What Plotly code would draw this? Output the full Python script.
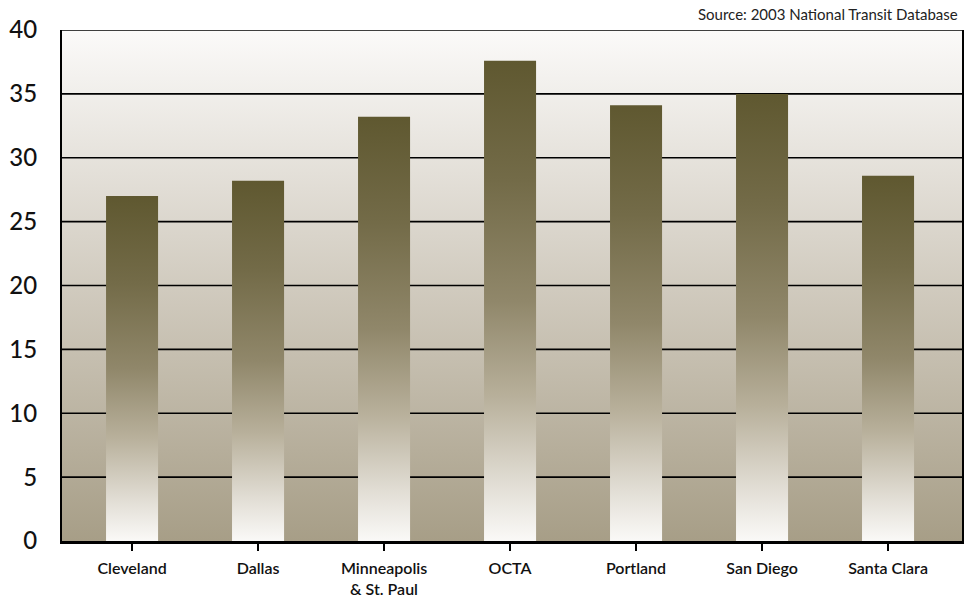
import plotly.graph_objects as go

# Average trip length by light-rail system
categories = ["Cleveland", "Dallas", "Minneapolis<br>& St. Paul", "OCTA",
              "Portland", "San Diego", "Santa Clara"]
values = [27.0, 28.2, 33.2, 37.6, 34.1, 35.0, 28.6]
y_ticks = [0, 5, 10, 15, 20, 25, 30, 35, 40]
source_note = "Source: 2003 National Transit Database"

BAR_WIDTH = 0.413
X_RANGE = [-0.556, 6.587]
Y_RANGE = [0, 40]

bar_scale = [
    [0.0, "#faf9f7"],
    [0.12, "#e1ddd4"],
    [0.3, "#b8b09b"],
    [0.5, "#90876a"],
    [0.75, "#736b48"],
    [1.0, "#5f5830"],
]
bg_scale = [[0.0, "#a79e87"], [0.5, "#d1cbbf"], [1.0, "#fbfaf9"]]

fig = go.Figure()

# plot-area background with vertical gradient
fig.add_trace(go.Scatter(
    x=[X_RANGE[0], X_RANGE[1], X_RANGE[1], X_RANGE[0], X_RANGE[0]],
    y=[Y_RANGE[0], Y_RANGE[0], Y_RANGE[1], Y_RANGE[1], Y_RANGE[0]],
    mode="lines", line=dict(width=0), fill="toself",
    fillgradient=dict(type="vertical", colorscale=bg_scale),
    hoverinfo="skip", showlegend=False,
))

# horizontal gridlines drawn over the background, under the bars
gx, gy = [], []
for t in y_ticks[1:]:
    gx += [X_RANGE[0], X_RANGE[1], None]
    gy += [t, t, None]
fig.add_trace(go.Scatter(
    x=gx, y=gy, mode="lines",
    line=dict(color="#000000", width=1.6),
    hoverinfo="skip", showlegend=False,
))

# gradient-filled bars
for i, (cat, v) in enumerate(zip(categories, values)):
    x0, x1 = i - BAR_WIDTH / 2, i + BAR_WIDTH / 2
    fig.add_trace(go.Scatter(
        x=[x0, x1, x1, x0, x0], y=[0, 0, v, v, 0],
        mode="lines", line=dict(width=0), fill="toself",
        fillgradient=dict(type="vertical", colorscale=bar_scale),
        name=cat.replace("<br>", " "), hoverinfo="name+text",
        text=[f"{v:.1f}"] * 5, showlegend=False,
    ))

fig.update_layout(
    width=966, height=600,
    margin=dict(l=62, r=4, t=30, b=59, autoexpand=False),
    paper_bgcolor="#ffffff", plot_bgcolor="#ffffff",
    font=dict(family="Lato, 'Open Sans', sans-serif", color="#111111"),
    showlegend=False,
    annotations=[dict(
        text=source_note, x=1, y=1, xref="paper", yref="paper",
        xanchor="right", yanchor="bottom", yshift=5, xshift=-2, showarrow=False,
        font=dict(size=15, color="#222222"),
    )],
)

fig.update_xaxes(
    range=X_RANGE, tickmode="array", tickvals=list(range(len(categories))),
    ticktext=categories, showgrid=False, zeroline=False, automargin=False,
    showline=True, linecolor="#000000", linewidth=3,
    ticks="outside", ticklen=7, tickwidth=2, tickcolor="#000000",
    ticklabelstandoff=4,
    tickfont=dict(size=16, color="#111111", family="Lato, sans-serif", weight=600),
)
fig.update_yaxes(
    range=Y_RANGE, tickmode="array", tickvals=y_ticks,
    showgrid=False, zeroline=False, automargin=False,
    showline=True, linecolor="#000000", linewidth=2, mirror=True,
    ticks="", ticklabelstandoff=18,
    tickfont=dict(size=24, color="#111111", family="Lato, sans-serif", weight=500),
)

fig.write_html("out.html")
